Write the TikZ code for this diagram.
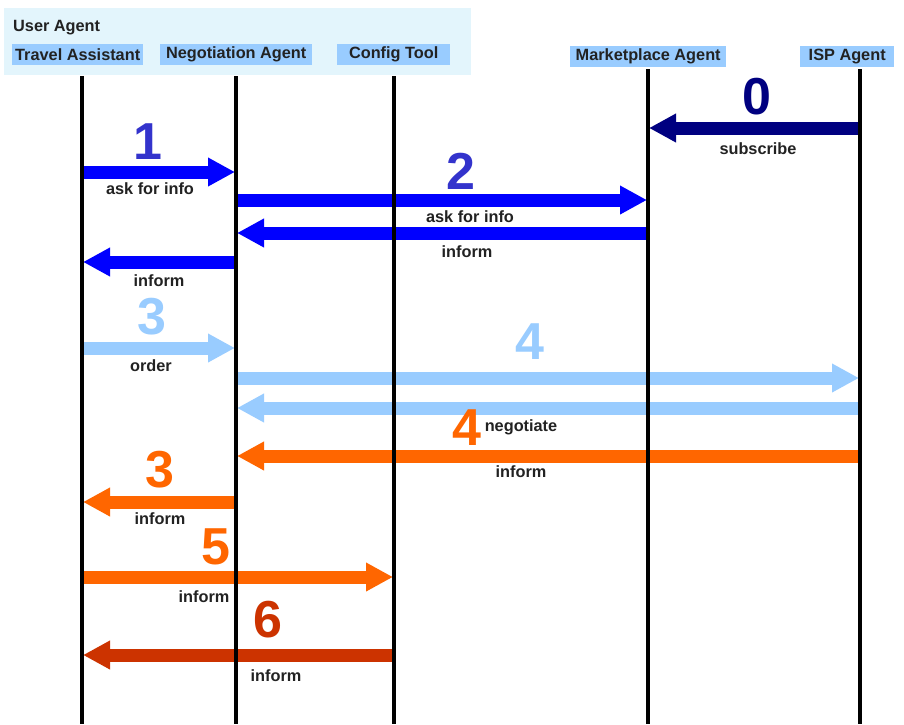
\documentclass[tikz,border=0pt]{standalone}
\usepackage{fontspec}
\setmainfont{Liberation Sans}
\usetikzlibrary{arrows.meta}
\definecolor{hdrbg}{HTML}{E3F5FC}
\definecolor{lblue}{HTML}{99CCFF}
\definecolor{navy}{HTML}{000080}
\definecolor{pblue}{HTML}{0000FF}
\definecolor{numblue}{HTML}{3333CC}
\definecolor{orng}{HTML}{FF6600}
\definecolor{dorng}{HTML}{CC3300}
\definecolor{txt}{HTML}{222222}
\begin{document}
\begin{tikzpicture}[x=1pt,y=-1pt,
  lifeline/.style={line width=4pt},
  msg/.style={line width=13pt,-{Triangle[width=27pt,length=27pt]},shorten >=1pt},
  lbl/.style={font=\fontsize{16.3}{16.3}\selectfont\bfseries,text=txt,inner sep=0pt},
  num/.style={font=\fontsize{52}{52}\selectfont\bfseries,inner sep=0pt},
  role/.style={fill=lblue,font=\fontsize{16.3}{16.3}\selectfont\bfseries,text=txt,inner sep=0pt,anchor=north west}]
\useasboundingbox (0,0) rectangle (904,724);
\fill[white] (0,0) rectangle (904,724);
% header
\fill[hdrbg] (4,8) rectangle (471,75);
\node[lbl,anchor=west] (ua) at (13,28) {User Agent};
\node[role,minimum width=131pt,minimum height=21pt] (taL) at (12,44) {Travel Assistant};
\node[role,minimum width=152pt,minimum height=21pt] (naL) at (160,44) {Negotiation Agent};
\node[role,minimum width=113pt,minimum height=21pt] (ctL) at (337,44) {Config Tool};
\node[role,minimum width=156pt,minimum height=21pt] (mpL) at (570,46) {Marketplace Agent};
\node[role,minimum width=94pt,minimum height=21pt] (ispL) at (800,46) {ISP Agent};
% lifeline anchors
\coordinate (TA) at (82,76);
\coordinate (NA) at (236,76);
\coordinate (CT) at (394,76);
\coordinate (MP) at (648,69);
\coordinate (ISP) at (860,69);
\coordinate (TAb) at (82,724);
\coordinate (NAb) at (236,724);
\coordinate (CTb) at (394,724);
\coordinate (MPb) at (648,724);
\coordinate (ISPb) at (860,724);
% messages
\draw[msg,navy] (ISP |- 0,128) -- (MP |- 0,128);
\node[num,text=navy] (n0) at (757,97) {0};
\node[lbl] (l0) at (758,149) {subscribe};

\draw[msg,pblue] (TA |- 0,172) -- (NA |- 0,172);
\node[num,text=numblue] (n1) at (148,142) {1};
\node[lbl] (l1) at (150,189) {ask for info};

\draw[msg,pblue] (NA |- 0,200) -- (MP |- 0,200);
\node[num,text=numblue] (n2) at (461,171) {2};
\node[lbl] (l2) at (470,217) {ask for info};

\draw[msg,pblue] (MP |- 0,233) -- (NA |- 0,233);
\node[lbl] (l2b) at (467,252) {inform};

\draw[msg,pblue] (NA |- 0,262) -- (TA |- 0,262);
\node[lbl] (l1b) at (159,281) {inform};

\draw[msg,lblue] (TA |- 0,348) -- (NA |- 0,348);
\node[num,text=lblue] (n3) at (152,317) {3};
\node[lbl] (l3) at (151,366) {order};

\draw[msg,lblue] (NA |- 0,378) -- (ISP |- 0,378);
\node[num,text=lblue] (n4) at (530,342) {4};
\draw[msg,lblue] (ISP |- 0,408) -- (NA |- 0,408);
\node[lbl] (l4) at (521,427) {negotiate};

\draw[msg,orng] (ISP |- 0,456) -- (NA |- 0,456);
\node[num,text=orng] (n4b) at (467,428) {4};
\node[lbl] (l4b) at (521,472) {inform};

\draw[msg,orng] (NA |- 0,502) -- (TA |- 0,502);
\node[num,text=orng] (n3b) at (160,470) {3};
\node[lbl] (l3b) at (160,519) {inform};

\draw[msg,orng] (TA |- 0,577) -- (CT |- 0,577);
\node[num,text=orng] (n5) at (216,547) {5};
\node[lbl] (l5) at (204,597) {inform};

\draw[msg,dorng] (CT |- 0,655) -- (TA |- 0,655);
\node[num,text=dorng] (n6) at (268,620) {6};
\node[lbl] (l6) at (276,676) {inform};
% lifelines on top
\draw[lifeline] (TA) -- (TAb);
\draw[lifeline] (NA) -- (NAb);
\draw[lifeline] (CT) -- (CTb);
\draw[lifeline] (MP) -- (MPb);
\draw[lifeline] (ISP) -- (ISPb);
\end{tikzpicture}
\end{document}
